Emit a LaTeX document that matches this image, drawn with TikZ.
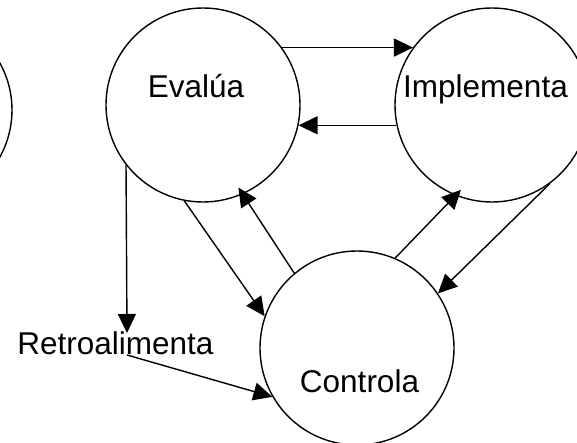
\documentclass[tikz,border=0pt]{standalone}
\usepackage{fontspec}
\setmainfont{Liberation Sans}
\usetikzlibrary{arrows.meta}
\begin{document}
\begin{tikzpicture}[x=1pt,y=-1pt,
  circ/.style={draw, circle, line width=1.4pt, minimum size=194pt, inner sep=0pt},
  lbl/.style={anchor=base, inner sep=0pt, font=\fontsize{31.5}{37}\selectfont},
  arr/.style={-{Triangle[length=19pt,width=18pt]}, line width=1.4pt}]
\useasboundingbox (0,0) rectangle (577,443);
\clip (0,0) rectangle (577,443);
% circles
\node[circ] (lc) at (-85,110) {};
\node[circ] (ev) at (203,105) {};
\node[circ] (im) at (492,105) {};
\node[circ] (co) at (357,348) {};
% labels
\node[lbl] (evt) at (196,98) {Evalúa};
\node[lbl] (imt) at (485.5,98) {Implementa};
\node[lbl] (cot) at (359.5,392) {Controla};
\node[lbl] (ret) at (115.5,354) {Retroalimenta};
% connector ends
\coordinate (rtop) at (127,333);
\coordinate (rbot) at (127,355);
% connectors
\draw[arr] (ev.36) -- (im.144);
\draw[arr] (im.192) -- (ev.-12);
\draw[arr] (ev.218) -- (rtop);
\draw[arr] (rbot) -- (co.210);
\draw[arr] (ev.259) -- (co.161);
\draw[arr, shorten >=-8pt] (co.130) -- (ev.-66);
\draw[arr, shorten >=-8pt] (co.67) -- (im.-112);
\draw[arr] (im.-54) -- (co.34);
\end{tikzpicture}
\end{document}
